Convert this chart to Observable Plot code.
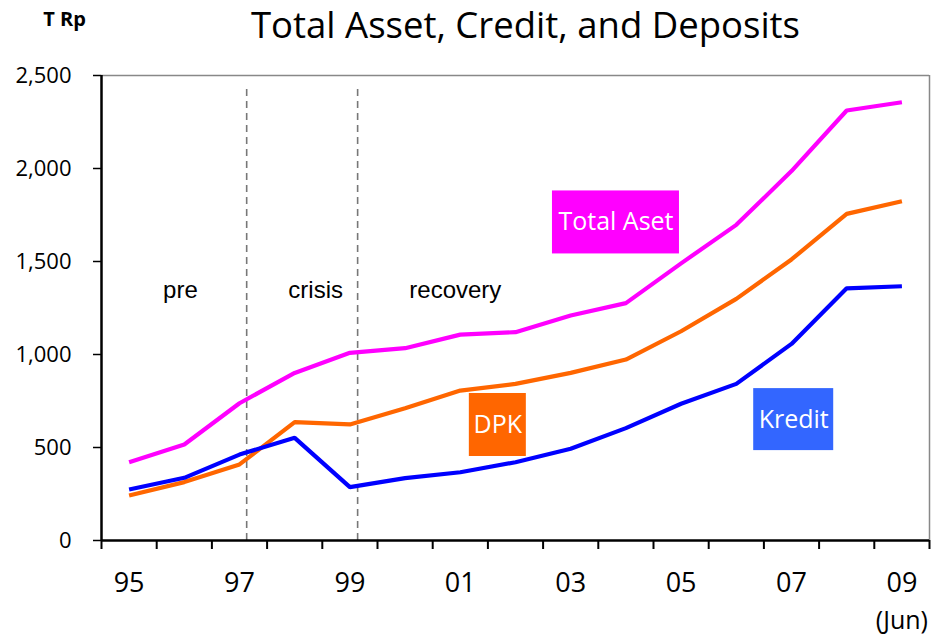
<!DOCTYPE html>
<html>
<head>
<meta charset="utf-8">
<script src="https://cdn.jsdelivr.net/npm/d3@7"></script>
<script src="https://cdn.jsdelivr.net/npm/@observablehq/plot@0.6"></script>
<style>
  html, body { margin: 0; padding: 0; background: #fff; }
  #chart { width: 939px; height: 644px; }
</style>
</head>
<body>
<div id="chart"></div>
<script>
// ---- data ----
const years = [95, 96, 97, 98, 99, 100, 101, 102, 103, 104, 105, 106, 107, 108, 109];
const yearLabels = ["95", "97", "99", "01", "03", "05", "07", "09"];
const totalAset = [421, 516, 738, 901, 1009, 1034, 1107, 1120, 1210, 1276, 1490, 1697, 1986, 2312, 2356];
const dpk       = [242, 314, 409, 636, 624, 711, 806, 842, 901, 973, 1125, 1299, 1511, 1756, 1824];
const kredit    = [274, 337, 462, 552, 287, 335, 367, 421, 493, 604, 735, 842, 1057, 1356, 1367];
const yTicks = [0, 500, 1000, 1500, 2000, 2500];
const phaseNames = ["pre", "crisis", "recovery"];
const seriesNames = ["Total Aset", "DPK", "Kredit"];

// ---- build tables ----
const rows = [];
years.forEach((yr, i) => {
  rows.push({ year: yr, value: totalAset[i], series: "Total Aset" });
  rows.push({ year: yr, value: dpk[i], series: "DPK" });
  rows.push({ year: yr, value: kredit[i], series: "Kredit" });
});
const colors = { "Total Aset": "#FF00FF", "DPK": "#FF6600", "Kredit": "#0000FF" };
const boxColors = { "Total Aset": "#FF00FF", "DPK": "#FF6600", "Kredit": "#3366FF" };

// annotation placement (chart coordinates)
const phaseLabels = [
  { text: phaseNames[0], x: 95.93, y: 1344 },
  { text: phaseNames[1], x: 98.38, y: 1344 },
  { text: phaseNames[2], x: 100.91, y: 1344 }
];
const seriesLabels = [
  { text: seriesNames[0], x: 103.82, y: 1710, hw: 63.5, hh: 31.5 },
  { text: seriesNames[1], x: 101.68, y: 621, hw: 28.5, hh: 31.5 },
  { text: seriesNames[2], x: 107.04, y: 650, hw: 40, hh: 31 }
];
const phaseBounds = [97.13, 99.14];

const labelYears = yearLabels.map(s => { const n = +s; return n < 50 ? n + 100 : n; });
const bandEdges = d3.range(94.5, 110, 1);

const font = "'Open Sans', Lato, sans-serif";

const chart = Plot.plot({
  width: 939,
  height: 644,
  marginLeft: 101,
  marginRight: 10,
  marginTop: 75,
  marginBottom: 104,
  style: { fontFamily: font, fontSize: "20px", background: "#fff", color: "#000" },
  x: { domain: [94.5, 109.5], axis: null },
  y: { domain: [0, 2500], axis: null },
  marks: [
    // frame (top & right gray)
    Plot.ruleY([2500], { stroke: "#888", strokeWidth: 1.5 }),
    Plot.ruleX([109.5], { stroke: "#888", strokeWidth: 1.5 }),
    // phase dashed lines
    Plot.ruleX(phaseBounds, { y1: 0, y2: 2500, stroke: "#777", strokeWidth: 1.6, strokeDasharray: "7,5", insetBottom: -10 }),
    // y axis
    Plot.axisY({ ticks: yTicks, tickFormat: d3.format(","), tickSize: 8, tickPadding: 22, fontSize: 22, stroke: "#000", strokeWidth: 1.5, fontFamily: font }),
    // x axis ticks at band edges
    Plot.axisX({ ticks: bandEdges, tickFormat: () => "", tickSize: 9, stroke: "#000", strokeWidth: 2 }),
    // x labels
    Plot.axisX({ ticks: labelYears, tickSize: 0, tickPadding: 32, fontSize: 27, fontFamily: font,
      tickFormat: d => yearLabels[labelYears.indexOf(d)] }),
    Plot.text(["(Jun)"], { x: 109, frameAnchor: "bottom", dy: 88, fontSize: 25, fontFamily: font, fill: "#000" }),
    // axis lines
    Plot.ruleX([94.5], { stroke: "#000", strokeWidth: 2.5 }),
    Plot.ruleY([0], { stroke: "#000", strokeWidth: 2.5 }),
    // data lines
    Plot.line(rows, { x: "year", y: "value", z: "series", stroke: d => colors[d.series], strokeWidth: 4.2, strokeLinejoin: "miter", strokeLinecap: "butt" }),
    // phase text
    Plot.text(phaseLabels, { x: "x", y: "y", text: "text", fontSize: 24, fontFamily: "'Liberation Sans', Arial, sans-serif", fill: "#000" }),
    // series label boxes
    ...seriesLabels.map(s => Plot.rect([s], { x1: "x", x2: "x", y1: "y", y2: "y",
      insetLeft: -s.hw, insetRight: -s.hw, insetTop: -s.hh, insetBottom: -s.hh, fill: boxColors[s.text] })),
    Plot.text(seriesLabels, { x: "x", y: "y", text: "text", fill: "#fff", fontSize: 25, fontFamily: font }),
    // title & unit
    Plot.text(["Total Asset, Credit, and Deposits"], { frameAnchor: "top", lineAnchor: "middle", dx: 10, dy: -49, fontSize: 36.5, fontFamily: font, fill: "#000" }),
    Plot.text(["T Rp"], { frameAnchor: "top-left", lineAnchor: "middle", dx: -37, dy: -56, fontSize: 20, fontWeight: "bold", fontFamily: font, fill: "#000", textAnchor: "middle" })
  ]
});
document.getElementById("chart").appendChild(chart);
</script>
</body>
</html>
